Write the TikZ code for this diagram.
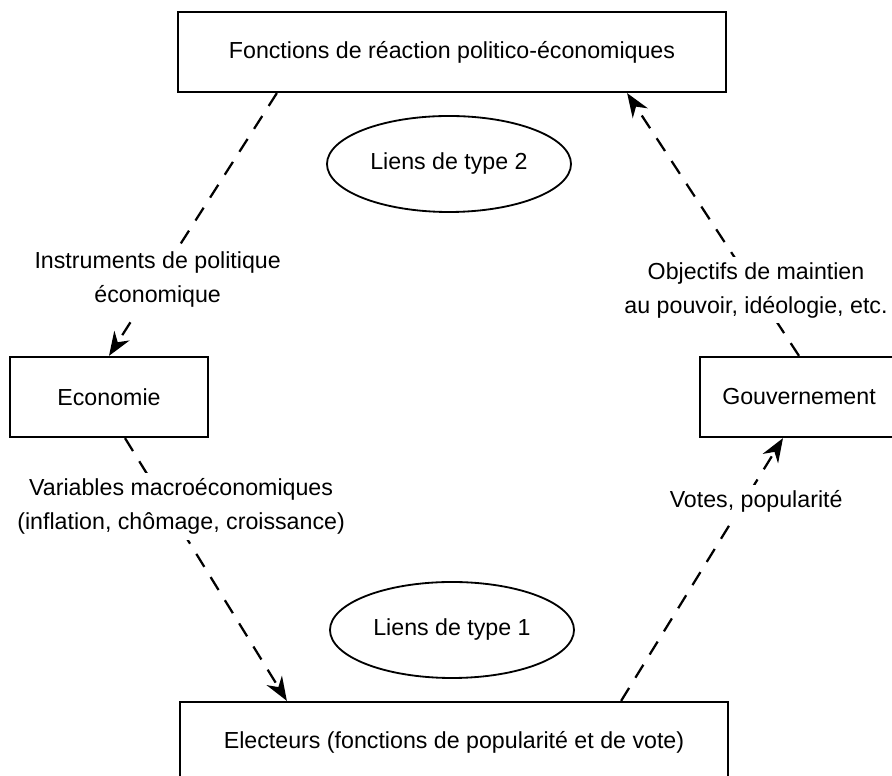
\documentclass[tikz,border=0pt]{standalone}
\usepackage{fontspec}
\setmainfont{Liberation Sans}
\usetikzlibrary{arrows.meta,shapes.geometric}

\begin{document}
\begin{tikzpicture}[
  boite/.style={draw, line width=1.6pt, minimum height=2cm, inner sep=0pt},
  bulle/.style={draw, ellipse, line width=1.3pt, minimum width=6.1cm, minimum height=2.4cm, inner sep=0pt},
  lien/.style={line width=1.6pt, dash pattern=on 0.38cm off 0.3cm, -{Stealth[length=0.6cm,width=0.45cm]}},
  etiq/.style={fill=white, align=center, inner sep=4pt},
  font=\fontsize{16.5}{24}\selectfont]
\useasboundingbox (0,0) rectangle (22.3,19.4);
\node[boite, minimum width=13.7cm] (fonctions) at (11.3,18.1) {Fonctions de réaction politico-économiques};
\node[boite, minimum width=4.95cm] (economie) at (2.725,9.475) {Economie};
\node[boite, minimum width=4.95cm] (gouvernement) at (19.975,9.475) {Gouvernement};
\node[boite, minimum width=13.7cm] (electeurs) at (11.35,0.85) {Electeurs (fonctions de popularité et de vote)};
\node[bulle] (type2) at (11.225,15.3) {Liens de type 2};
\node[bulle] (type1) at (11.3,3.65) {Liens de type 1};
\draw[lien] ([xshift=2.5cm]fonctions.south west) -- node[etiq, pos=0.71] {Instruments de politique\\économique} (economie.north);
\draw[lien] ([xshift=0.4cm]economie.south) -- node[etiq, pos=0.26, xshift=0.35cm] {Variables macroéconomiques\\(inflation, chômage, croissance)} ([xshift=2.7cm]electeurs.north west);
\draw[lien] ([xshift=-2.7cm]electeurs.north east) -- node[etiq, pos=0.76, xshift=0.3cm] {Votes, popularité} ([xshift=-0.4cm]gouvernement.south);
\draw[lien] (gouvernement.north) -- node[etiq, pos=0.25] {Objectifs de maintien\\au pouvoir, idéologie, etc.} ([xshift=-2.5cm]fonctions.south east);
\end{tikzpicture}
\end{document}
